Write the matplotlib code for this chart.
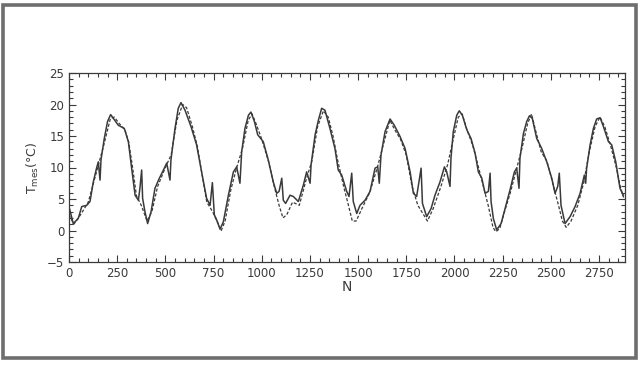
import matplotlib
matplotlib.use('Agg')
from matplotlib import pyplot as plt
from matplotlib.patches import Rectangle
from matplotlib.ticker import MultipleLocator

solid_n = [0, 22, 48, 66, 92, 109, 126, 143, 152, 161, 166, 183, 200, 216, 230, 256, 287, 308,
           325, 343, 360, 368, 377, 382, 394, 408, 426, 446, 469, 490, 507, 524, 529, 550, 567,
           581, 602, 633, 662, 688, 714, 732, 744, 754, 766, 784, 801, 827, 853, 870, 887, 896,
           913, 931, 944, 962, 979, 1008, 1034, 1060, 1078, 1090, 1104, 1112, 1124, 1147, 1164,
           1190, 1216, 1233, 1251, 1256, 1277, 1294, 1311, 1328, 1354, 1380, 1397, 1415, 1441,
           1453, 1467, 1475, 1493, 1510, 1536, 1562, 1588, 1602, 1610, 1619, 1640, 1666, 1688,
           1718, 1744, 1770, 1787, 1804, 1827, 1834, 1856, 1879, 1899, 1925, 1948, 1960, 1977,
           1982, 1994, 2012, 2025, 2041, 2064, 2086, 2107, 2124, 2142, 2159, 2176, 2185, 2190,
           2202, 2219, 2242, 2263, 2288, 2311, 2323, 2335, 2340, 2358, 2375, 2389, 2404, 2427,
           2453, 2479, 2505, 2522, 2536, 2544, 2553, 2574, 2600, 2626, 2652, 2674, 2681, 2686,
           2704, 2721, 2738, 2756, 2773, 2799, 2816, 2837, 2859, 2876]
solid_t = [3.8, 1.1, 1.9, 3.8, 4.0, 4.6, 7.7, 9.9, 10.9, 8.0, 11.2, 14.6, 17.3, 18.4, 17.8, 16.7,
           16.2, 14.1, 9.9, 5.6, 4.8, 6.7, 9.6, 5.1, 3.0, 1.1, 3.0, 6.7, 8.3, 9.6, 10.7, 8.0, 11.2,
           16.2, 19.4, 20.3, 19.1, 16.5, 13.6, 9.3, 5.1, 4.0, 7.6, 2.5, 1.7, 0.2, 1.4, 5.6, 9.3,
           10.1, 7.5, 12.5, 16.2, 18.3, 18.8, 17.3, 15.2, 14.1, 11.2, 7.7, 5.9, 6.2, 8.3, 4.8,
           4.3, 5.6, 5.4, 4.6, 7.2, 9.3, 7.5, 10.4, 15.2, 17.5, 19.4, 19.1, 16.2, 13.0, 9.6, 8.8,
           6.2, 5.4, 9.1, 4.6, 2.7, 4.0, 4.8, 6.2, 9.9, 10.1, 7.5, 12.0, 15.7, 17.7, 16.7, 14.9,
           13.0, 9.3, 5.9, 5.4, 9.9, 4.3, 2.2, 3.5, 5.6, 7.7, 10.1, 9.3, 7.0, 11.5, 15.7, 18.3,
           19.0, 18.3, 16.0, 14.6, 12.3, 9.3, 8.3, 5.9, 6.2, 9.1, 4.6, 1.9, 0.1, 1.1, 3.5, 6.4,
           9.3, 9.9, 6.7, 11.5, 15.4, 17.3, 18.2, 17.8, 14.6, 13.0, 10.9, 8.3, 5.9, 7.0, 9.1, 4.0,
           1.1, 2.2, 3.8, 5.9, 8.8, 7.5, 9.9, 13.6, 16.2, 17.7, 17.9, 16.5, 14.1, 13.6, 10.9,
           6.7, 5.6]

# computed (dashed) series
dash_n = [0, 25, 60, 100, 140, 180, 215, 235, 260, 290, 310, 330, 350, 375, 405, 430, 460, 500,
          530, 560, 590, 610, 640, 665, 690, 715, 745, 775, 790, 810, 840, 870, 900, 930, 950,
          970, 1000, 1035, 1065, 1090, 1110, 1130, 1160, 1195, 1230, 1260, 1290, 1320, 1345,
          1370, 1395, 1425, 1450, 1470, 1490, 1520, 1560, 1600, 1630, 1665, 1690, 1720, 1750,
          1780, 1810, 1840, 1860, 1890, 1930, 1965, 1990, 2020, 2040, 2065, 2095, 2125, 2150,
          2175, 2200, 2215, 2235, 2260, 2290, 2320, 2350, 2380, 2400, 2420, 2450, 2480, 2510,
          2540, 2560, 2580, 2605, 2640, 2670, 2700, 2730, 2755, 2780, 2810, 2840, 2860, 2880]
dash_t = [2.5, 1.0, 2.5, 4.5, 9.0, 13.5, 17.8, 18.0, 17.0, 16.0, 14.0, 10.0, 5.5, 4.0, 1.5, 3.0,
          7.0, 10.0, 12.0, 17.5, 20.0, 19.5, 16.5, 13.5, 9.0, 4.5, 3.0, 1.0, 0.0, 1.5, 6.5, 10.0,
          13.0, 17.5, 18.5, 17.0, 14.5, 11.0, 7.0, 4.0, 2.0, 2.5, 4.5, 4.0, 8.0, 11.0, 16.5, 19.0,
          18.0, 15.0, 11.0, 7.0, 4.0, 1.5, 1.5, 3.5, 6.0, 10.0, 13.5, 17.5, 16.0, 14.5, 12.0, 7.0,
          4.0, 2.5, 1.5, 3.5, 7.0, 10.5, 14.0, 18.0, 18.5, 16.0, 13.5, 10.0, 7.0, 4.0, 0.5, -0.2,
          0.3, 3.0, 6.0, 9.5, 13.0, 17.0, 18.5, 16.0, 12.5, 11.0, 7.5, 4.0, 1.5, 0.5, 1.5, 4.0,
          7.5, 12.5, 16.5, 18.0, 16.5, 13.5, 10.0, 7.0, 5.0]

ink = '#3a3a3a'

fig = plt.figure(figsize=(6.4, 3.65), dpi=100)
fig.patches.append(Rectangle((3 / 640, 1 - 358 / 365), 633 / 640, 353 / 365,
                             transform=fig.transFigure, fill=False,
                             edgecolor='#6e6e6e', linewidth=2.6))

ax = fig.add_axes([69 / 640, 1 - 262 / 365, 556 / 640, 189 / 365])
ax.plot(dash_n, dash_t, color=ink, linewidth=0.9, linestyle=(0, (2.5, 1.5)))
ax.plot(solid_n, solid_t, color=ink, linewidth=1.1)

ax.set_xlim(0, 2885)
ax.set_ylim(-5, 25)
ax.xaxis.set_major_locator(MultipleLocator(250))
ax.xaxis.set_minor_locator(MultipleLocator(50))
ax.yaxis.set_major_locator(MultipleLocator(5))
ax.yaxis.set_minor_locator(MultipleLocator(1))
ax.tick_params(which='both', direction='in', top=True, right=True, colors=ink,
               labelsize=8.5, width=0.8)
ax.tick_params(which='major', length=5)
ax.tick_params(which='minor', length=3)
for s in ax.spines.values():
    s.set_color(ink)
    s.set_linewidth(0.9)

ax.set_xlabel('N', fontsize=10, color=ink, labelpad=0)
ax.set_ylabel(r'T$_{\mathrm{mes}}$(°C)', fontsize=9, color=ink, labelpad=4)

fig.savefig('out.png', dpi=100)
